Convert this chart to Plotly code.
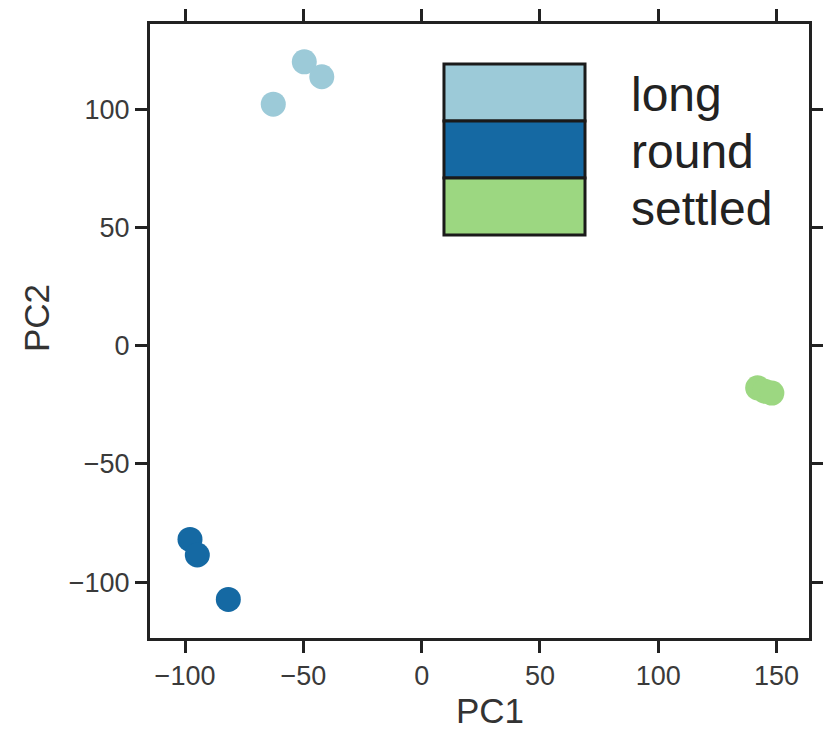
import plotly.graph_objects as go

categories = ["long", "round", "settled"]
colors = ["#9ccad8", "#1569a3", "#9cd781"]
pc1 = {
    "long": [-49.6, -42.2, -62.7],
    "round": [-97.9, -94.8, -81.7],
    "settled": [142.0, 145.0, 148.0],
}
pc2 = {
    "long": [120.1, 113.8, 102.2],
    "round": [-81.9, -88.5, -107.3],
    "settled": [-17.8, -19.2, -20.0],
}
tick_vals = [-100, -50, 0, 50, 100, 150]
x_title = "PC1"
y_title = "PC2"

fig = go.Figure()
for cat, col in zip(categories, colors):
    fig.add_trace(go.Scatter(
        x=pc1[cat], y=pc2[cat], mode="markers", name=cat,
        marker=dict(size=25, color=col, line=dict(width=0)),
        showlegend=False,
    ))

axis_common = dict(
    showgrid=False, zeroline=False, showline=True, linecolor="#222222",
    linewidth=3, mirror="ticks", ticks="outside", ticklen=12, tickwidth=3,
    tickcolor="#222222", tickvals=tick_vals, automargin=False,
    tickfont=dict(family="Liberation Sans, Arial", size=27, color="#3a3a3a"),
)
fig.update_xaxes(range=[-114.8, 163.7], **axis_common)
fig.update_yaxes(range=[-123.6, 136.1], **axis_common)

title_font = dict(family="Liberation Sans, Arial", size=35, color="#333333")
annotations = [
    dict(xref="paper", yref="paper", x=(490 - 150) / 659, y=(638 - 731) / 614,
         xanchor="center", yanchor="bottom", text=x_title, showarrow=False,
         borderpad=0, font=title_font),
    dict(xref="paper", yref="paper", x=(36 - 150) / 659, y=(638 - 318) / 614,
         xanchor="center", yanchor="middle", text=y_title, showarrow=False,
         textangle=-90, font=title_font),
]

# legend drawn as boxes + labels
x0, x1 = 0.4461, 0.6601
ytop, row_h = 0.9349, 0.0928
shapes = []
for i, (cat, col) in enumerate(zip(categories, colors)):
    yt = ytop - i * row_h
    yb = yt - row_h
    shapes.append(dict(type="rect", xref="paper", yref="paper", x0=x0, x1=x1,
                       y0=yb, y1=yt, fillcolor=col,
                       line=dict(color="#1a1a1a", width=3)))
    annotations.append(dict(xref="paper", yref="paper", x=0.7269, y=(yt + yb) / 2 - 0.003,
                            xanchor="left", yanchor="middle", text=cat, showarrow=False,
                            font=dict(family="Liberation Sans, Arial",
                                      size=48, color="#222222")))

fig.update_layout(
    width=823, height=732,
    margin=dict(l=150, r=14, t=24, b=94),
    paper_bgcolor="white", plot_bgcolor="white",
    shapes=shapes, annotations=annotations,
)
fig.write_html("out.html")
